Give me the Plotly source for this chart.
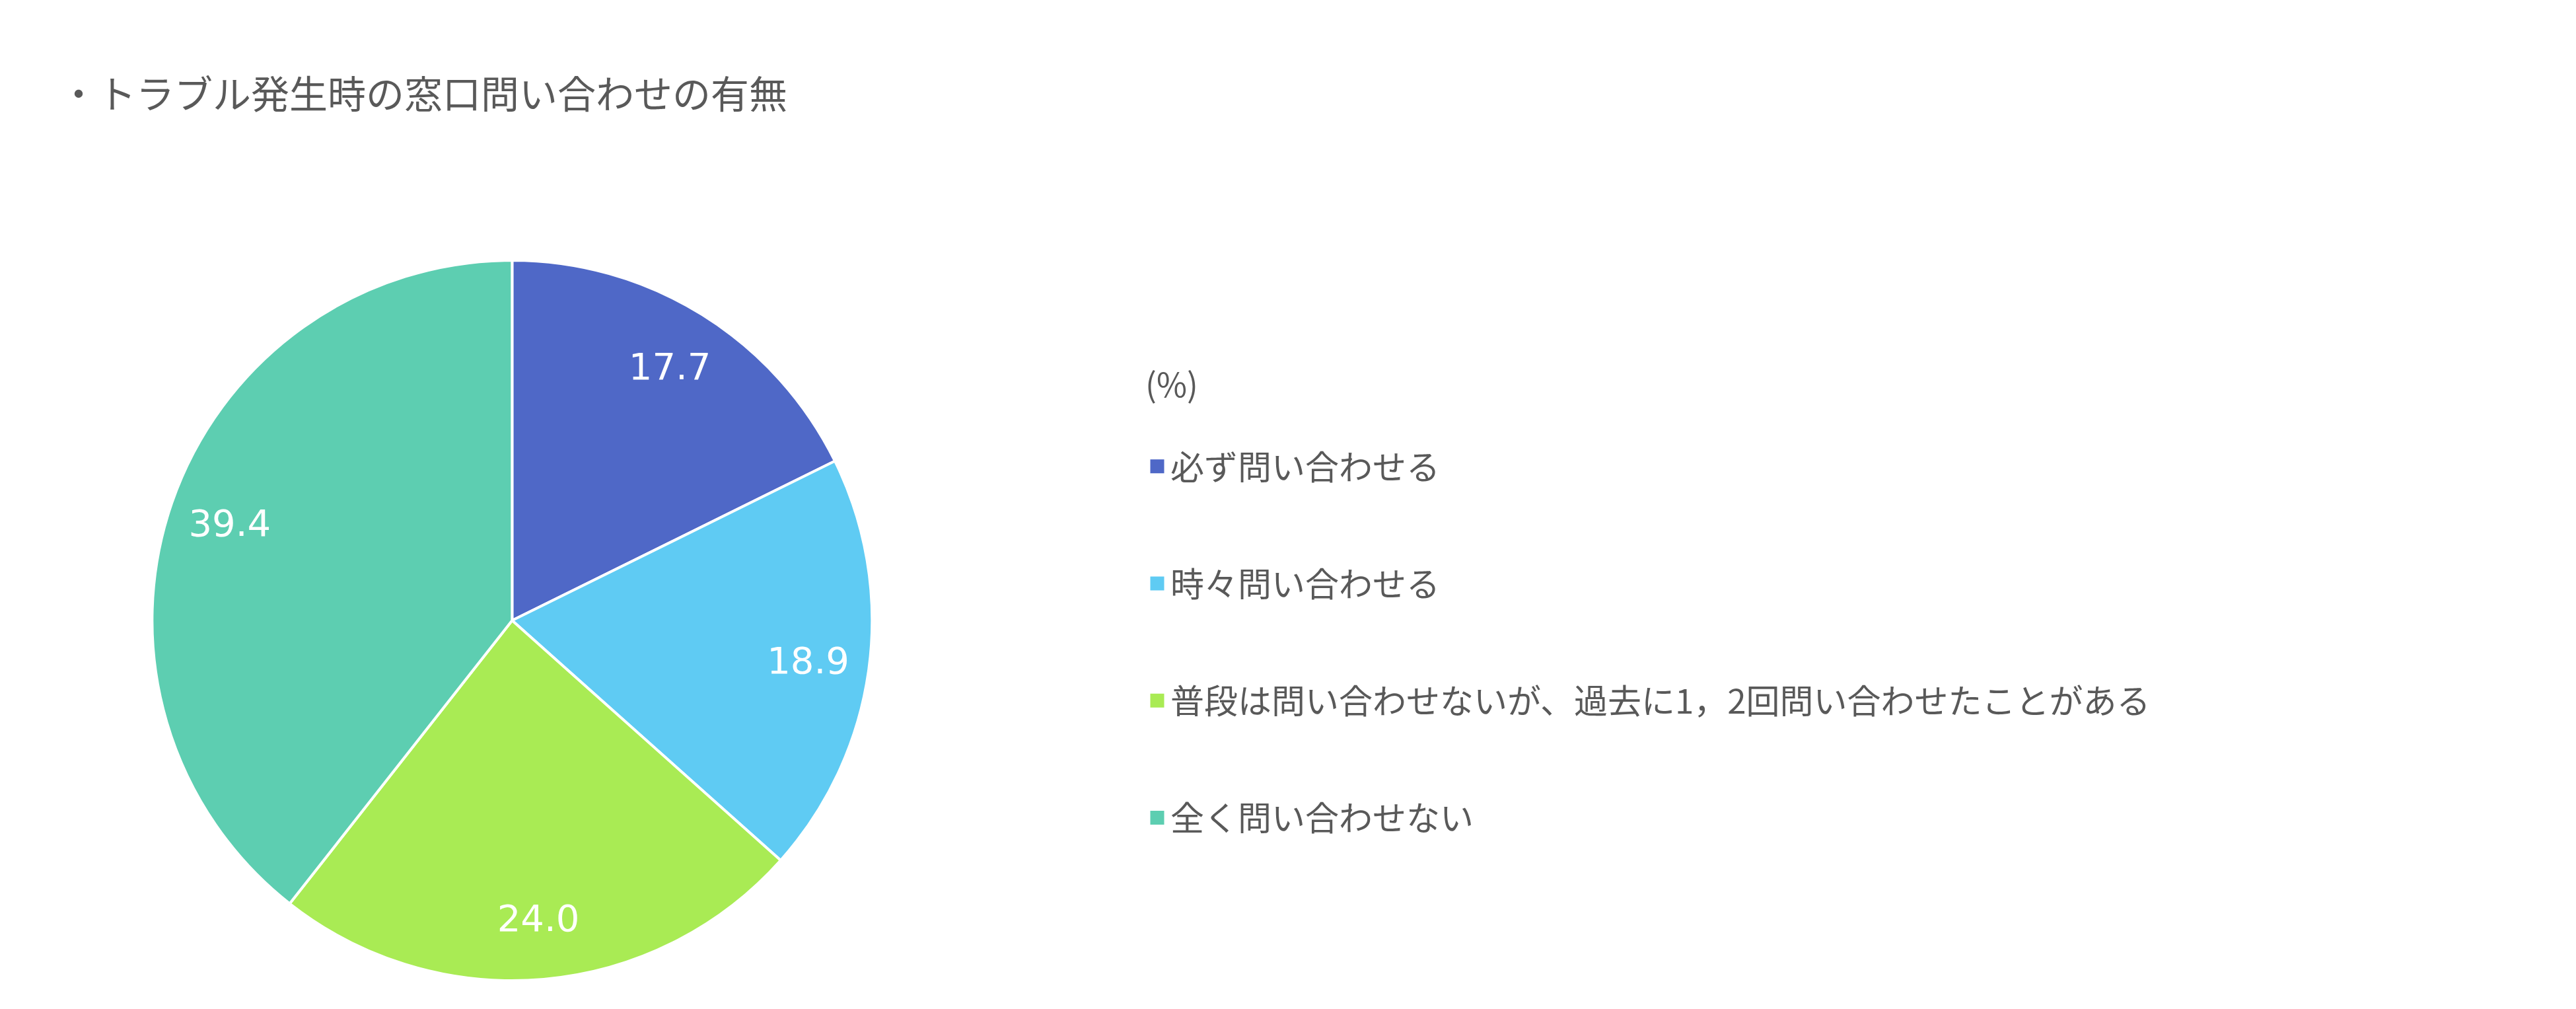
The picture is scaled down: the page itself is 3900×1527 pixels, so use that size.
import plotly.graph_objects as go

categories = ["必ず問い合わせる", "時々問い合わせる",
              "普段は問い合わせないが、過去に1，2回問い合わせたことがある", "全く問い合わせない"]
values = [17.7, 18.9, 24.0, 39.4]
colors = ["#4F68C7", "#5FCBF3", "#A9EB54", "#5DCEB1"]
title_text = "・トラブル発生時の窓口問い合わせの有無"
legend_title = "(%)"

FONT = "Noto Sans CJK JP"
GREY = "#595959"
DOMAIN = dict(x=[0.057, 0.3365], y=[0.0334, 0.7472])

fig = go.Figure()
# filled pie
fig.add_trace(go.Pie(
    labels=categories, values=values, sort=False, direction="clockwise", rotation=0,
    marker=dict(colors=colors, line=dict(color="white", width=4)),
    textinfo="none", domain=DOMAIN, showlegend=False, hoverinfo="label+value",
))
# transparent ring carrying the value labels near the outer edge
fig.add_trace(go.Pie(
    labels=categories, values=values, sort=False, direction="clockwise", rotation=0,
    hole=0.66,
    marker=dict(colors=["rgba(0,0,0,0)"] * len(values), line=dict(width=0)),
    texttemplate="%{value:.1f}", textposition="inside", insidetextorientation="horizontal",
    textfont=dict(family="DejaVu Sans", size=56, color="white"),
    domain=DOMAIN, showlegend=False, hoverinfo="skip",
))
for i, (c, col) in enumerate(zip(categories, colors)):
    fig.add_trace(go.Scatter(
        x=[None], y=[None], mode="markers", name=c, legendgroup=f"g{i}",
        marker=dict(symbol="square", size=16, color=col, line=dict(color=col, width=5)),
        showlegend=True,
    ))

fig.update_layout(
    width=3900, height=1527, paper_bgcolor="white", plot_bgcolor="white",
    margin=dict(l=0, r=0, t=0, b=0),
    title=dict(text=title_text, x=82/3900, xanchor="left", y=1-136/1527, yanchor="middle",
               font=dict(family=FONT, size=58, color=GREY)),
    xaxis=dict(visible=False), yaxis=dict(visible=False),
    legend=dict(x=1724/3900, xanchor="left", y=1-528/1527, yanchor="top",
                title=dict(text=legend_title + "<br> ", font=dict(family=FONT, size=50, color=GREY)),
                font=dict(family=FONT, size=51, color=GREY),
                tracegroupgap=108, itemwidth=30, bgcolor="rgba(0,0,0,0)"),
)
fig.write_html("out.html")
